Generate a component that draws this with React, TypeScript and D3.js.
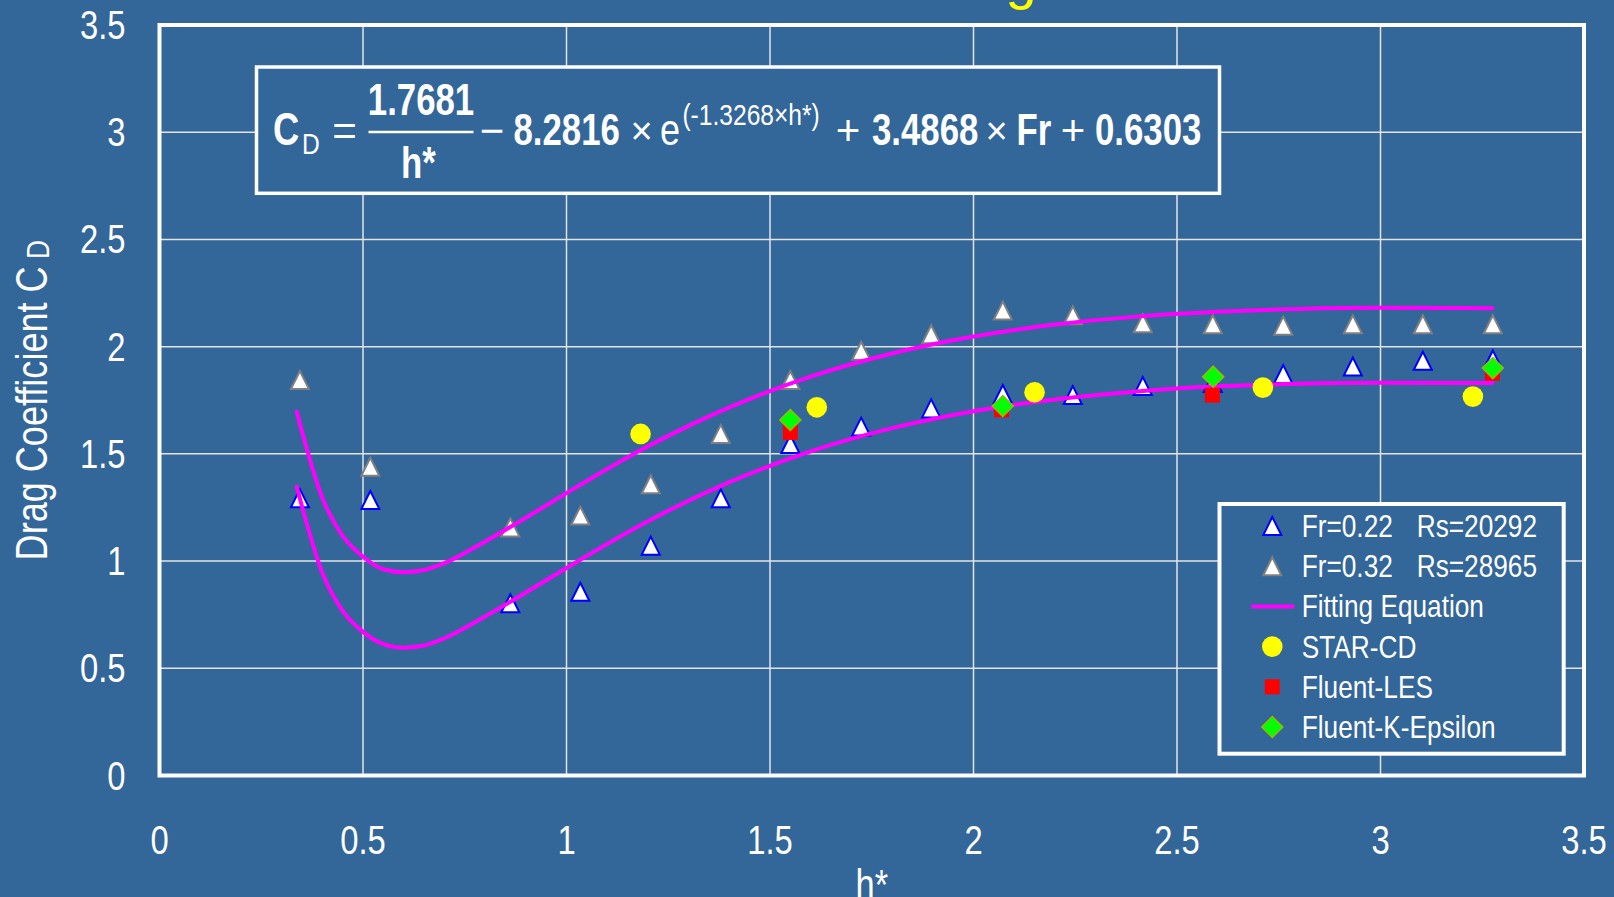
import React from 'react';
import * as d3 from 'd3';

const W = 1614;
const H = 897;

const xTicks = [0, 0.5, 1, 1.5, 2, 2.5, 3, 3.5];
const yTicks = [0, 0.5, 1, 1.5, 2, 2.5, 3, 3.5];
const xTickLabels = ['0', '0.5', '1', '1.5', '2', '2.5', '3', '3.5'];
const yTickLabels = ['0', '0.5', '1', '1.5', '2', '2.5', '3', '3.5'];

// Experimental h* values (same for both Froude numbers)
const expH = [0.345, 0.518, 0.862, 1.034, 1.207, 1.379, 1.55, 1.724, 1.896, 2.072, 2.244, 2.416, 2.588, 2.761, 2.932, 3.104, 3.276];
// Fr=0.22 Rs=20292
const fr22Cd = [1.293, 1.285, 0.803, 0.857, 1.072, 1.293, 1.546, 1.627, 1.712, 1.779, 1.774, 1.816, 1.83, 1.872, 1.907, 1.934, 1.94];
// Fr=0.32 Rs=28965
const fr32Cd = [1.844, 1.44, 1.157, 1.212, 1.358, 1.593, 1.844, 1.981, 2.058, 2.168, 2.146, 2.109, 2.104, 2.098, 2.104, 2.104, 2.104];

// Fitting equation curves
const fitH = [0.337, 0.4, 0.45, 0.5, 0.55, 0.6, 0.65, 0.7, 0.8, 0.9, 1.0, 1.2, 1.4, 1.6, 1.8, 2.0, 2.2, 2.4, 2.6, 2.8, 3.0, 3.275];
const fitHigh = [1.697, 1.295, 1.117, 1.02, 0.962, 0.948, 0.958, 0.99, 1.091, 1.202, 1.317, 1.535, 1.717, 1.86, 1.968, 2.047, 2.103, 2.14, 2.163, 2.176, 2.181, 2.179];
const fitLow = [1.348, 0.946, 0.768, 0.67, 0.613, 0.596, 0.606, 0.64, 0.742, 0.853, 0.968, 1.186, 1.368, 1.512, 1.62, 1.699, 1.754, 1.791, 1.815, 1.827, 1.832, 1.83];

// STAR-CD
const starH = [1.182, 1.615, 2.15, 2.711, 3.227];
const starCd = [1.593, 1.717, 1.787, 1.809, 1.767];
// Fluent-LES
const lesH = [1.55, 2.069, 2.587, 3.275];
const lesCd = [1.6, 1.705, 1.774, 1.876];
// Fluent-K-Epsilon
const keH = [1.55, 2.072, 2.589, 3.276];
const keCd = [1.658, 1.723, 1.86, 1.9];

const BG = '#336699';
const SANS = "'Liberation Sans', Arial, sans-serif";
const SX = 0.82; // horizontal condensing to mimic a narrow face
const SXB = 0.79;

const TRI = 'M0,-9L9,9L-9,9Z';
const DIA = 'M0,-10.5L10.5,0L0,10.5L-10.5,0Z';

type NTProps = {
  x: number;
  y: number;
  size: number;
  anchor?: 'start' | 'middle' | 'end';
  bold?: boolean;
  fill?: string;
  rotate?: number;
  children?: React.ReactNode;
};

function NT({ x, y, size, anchor = 'start', bold = false, fill = '#ffffff', rotate = 0, children }: NTProps) {
  const rot = rotate ? ` rotate(${rotate})` : '';
  const sx = bold ? SXB : SX;
  return (
    <text
      transform={`translate(${x},${y})${rot} scale(${sx},1)`}
      textAnchor={anchor}
      fontFamily={SANS}
      fontWeight={bold ? 'bold' : 'normal'}
      fontSize={size}
      fill={fill}
    >
      {children}
    </text>
  );
}

function Sym({ x, y, size, children }: { x: number; y: number; size: number; children?: React.ReactNode }) {
  return (
    <text x={x} y={y} textAnchor="middle" fontFamily={SANS} fontSize={size} fill="#ffffff">
      {children}
    </text>
  );
}

export default function App() {
  const x = d3.scaleLinear().domain([0, 3.5]).range([159.5, 1584]);
  const y = d3.scaleLinear().domain([0, 3.5]).range([775.5, 25]);
  const line = d3
    .line<[number, number]>()
    .x((d) => x(d[0]))
    .y((d) => y(d[1]))
    .curve(d3.curveMonotoneX);

  const highPts = fitH.map((h, i) => [h, fitHigh[i]] as [number, number]);
  const lowPts = fitH.map((h, i) => [h, fitLow[i]] as [number, number]);

  const legendRows = [
    { label: 'Fr=0.22', label2: 'Rs=20292', kind: 'tri22' },
    { label: 'Fr=0.32', label2: 'Rs=28965', kind: 'tri32' },
    { label: 'Fitting Equation', kind: 'line' },
    { label: 'STAR-CD', kind: 'circle' },
    { label: 'Fluent-LES', kind: 'square' },
    { label: 'Fluent-K-Epsilon', kind: 'diamond' },
  ];

  const marker = (kind: string) => {
    switch (kind) {
      case 'tri22':
        return <path d={TRI} fill="#ffffff" stroke="#0000ff" strokeWidth={2} />;
      case 'tri32':
        return <path d={TRI} fill="#ffffff" stroke="#808080" strokeWidth={2} />;
      case 'line':
        return <line x1={-21} x2={22} y1={0} y2={0} stroke="#ff00ff" strokeWidth={4} />;
      case 'circle':
        return <circle r={10.3} fill="#ffff00" />;
      case 'square':
        return <rect x={-7.5} y={-7.5} width={15} height={15} fill="#ff0000" />;
      case 'diamond':
        return <path d={DIA} fill="#00ff00" stroke="#99bb00" strokeWidth={1.5} />;
      default:
        return null;
    }
  };

  return (
    <svg width={W} height={H} style={{ position: 'absolute', left: 0, top: 0, display: 'block' }}>
      <rect x={0} y={0} width={W} height={H} fill={BG} />

      {/* title fragment */}
      <text x={1021} y={-2} textAnchor="middle" fontFamily={SANS} fontSize={56} fill="#ffff00">
        g
      </text>

      {/* grid */}
      {xTicks.slice(1, -1).map((t) => (
        <line key={'gx' + t} x1={x(t)} x2={x(t)} y1={y(3.5)} y2={y(0)} stroke="#e4e4e4" strokeWidth={1.5} />
      ))}
      {yTicks.slice(1, -1).map((t) => (
        <line key={'gy' + t} x1={x(0)} x2={x(3.5)} y1={y(t)} y2={y(t)} stroke="#e4e4e4" strokeWidth={1.5} />
      ))}

      {/* plot border */}
      <rect x={x(0)} y={y(3.5)} width={x(3.5) - x(0)} height={y(0) - y(3.5)} fill="none" stroke="#ffffff" strokeWidth={4} />

      {/* tick labels */}
      {xTicks.map((t, i) => (
        <NT key={'xt' + t} x={x(t)} y={854} size={40} anchor="middle">
          {xTickLabels[i]}
        </NT>
      ))}
      {yTicks.map((t, i) => (
        <NT key={'yt' + t} x={125.5} y={y(t) + 14} size={40} anchor="end">
          {yTickLabels[i]}
        </NT>
      ))}

      {/* axis titles */}
      <NT x={x(1.75)} y={899} size={42} anchor="middle">
        h*
      </NT>
      <NT x={47} y={y(1.75)} size={44} anchor="middle" rotate={-90}>
        Drag Coefficient C<tspan fontSize={32} dx={9} dy={2}>D</tspan>
      </NT>

      {/* formula box */}
      <rect x={256.5} y={67} width={963} height={126.3} fill={BG} stroke="#ffffff" strokeWidth={3.5} />
      <g>
        <NT x={273} y={145} size={46} bold>C</NT>
        <NT x={302} y={154} size={30}>D</NT>
        <Sym x={344.5} y={145} size={42}>=</Sym>
        <NT x={421} y={115} size={44} anchor="middle" bold>1.7681</NT>
        <line x1={368.5} x2={473.5} y1={132} y2={132} stroke="#ffffff" strokeWidth={2.5} />
        <NT x={418.5} y={178} size={44} anchor="middle" bold>h*</NT>
        <Sym x={492} y={145} size={42}>−</Sym>
        <NT x={513.5} y={145} size={44} bold>8.2816</NT>
        <Sym x={641.7} y={144} size={38}>×</Sym>
        <NT x={660} y={145} size={44}>e</NT>
        <NT x={682.4} y={125} size={30}>(-1.3268×h*)</NT>
        <Sym x={848} y={145} size={42}>+</Sym>
        <NT x={872} y={145} size={44} bold>3.4868</NT>
        <Sym x={996.7} y={144} size={38}>×</Sym>
        <NT x={1016.5} y={145} size={44} bold>Fr</NT>
        <Sym x={1073} y={145} size={42}>+</Sym>
        <NT x={1095} y={145} size={44} bold>0.6303</NT>
      </g>

      {/* series */}
      <g>
        {expH.map((h, i) => (
          <path key={'a' + i} d={TRI} transform={`translate(${x(h)},${y(fr22Cd[i])})`} fill="#ffffff" stroke="#0000ff" strokeWidth={2} />
        ))}
      </g>
      <g>
        {expH.map((h, i) => (
          <path key={'b' + i} d={TRI} transform={`translate(${x(h)},${y(fr32Cd[i])})`} fill="#ffffff" stroke="#808080" strokeWidth={2} />
        ))}
      </g>
      <path d={line(highPts) || ''} fill="none" stroke="#ff00ff" strokeWidth={4} strokeLinejoin="round" strokeLinecap="round" />
      <path d={line(lowPts) || ''} fill="none" stroke="#ff00ff" strokeWidth={4} strokeLinejoin="round" strokeLinecap="round" />
      <g>
        {starH.map((h, i) => (
          <circle key={'s' + i} cx={x(h)} cy={y(starCd[i])} r={10.3} fill="#ffff00" />
        ))}
      </g>
      <g>
        {lesH.map((h, i) => (
          <rect key={'l' + i} x={x(h) - 7.5} y={y(lesCd[i]) - 7.5} width={15} height={15} fill="#ff0000" />
        ))}
      </g>
      <g>
        {keH.map((h, i) => (
          <path key={'k' + i} d={DIA} transform={`translate(${x(h)},${y(keCd[i])})`} fill="#00ff00" stroke="#99bb00" strokeWidth={1.5} />
        ))}
      </g>

      {/* legend */}
      <rect x={1219.5} y={504} width={344.2} height={249.7} fill={BG} stroke="#ffffff" strokeWidth={4} />
      {legendRows.map((r, i) => {
        const cy = 526 + i * 40.2;
        return (
          <g key={'lg' + i}>
            <g transform={`translate(1272.3,${cy})`}>{marker(r.kind)}</g>
            <NT x={1301.7} y={cy + 11} size={32}>
              {r.label}
            </NT>
            {r.label2 ? (
              <NT x={1416.7} y={cy + 11} size={32}>
                {r.label2}
              </NT>
            ) : null}
          </g>
        );
      })}
    </svg>
  );
}
